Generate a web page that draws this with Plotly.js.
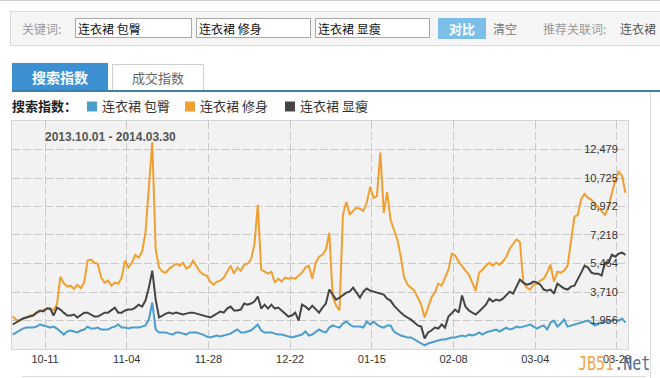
<!DOCTYPE html>
<html>
<head>
<meta charset="utf-8">
<script src="https://cdn.plot.ly/plotly-3.0.1.min.js"></script>
<style>
  html, body { margin:0; padding:0; background:#fff; }
  body { width:660px; height:378px; overflow:hidden; position:relative;
         font-family:"Noto Sans CJK SC","Liberation Sans",sans-serif; }
  #chart { position:absolute; left:0; top:0; width:660px; height:378px; z-index:1; }
  .ui { position:absolute; z-index:0; white-space:nowrap; }
  .top { z-index:5; }
  .lbl { font-size:12px; line-height:20px; }
  .inp { background:#fff; border:1px solid #a8a8a8; height:20px; top:18px;
         font-size:12px; line-height:20px; color:#111; padding-left:2px; box-sizing:border-box; }
</style>
</head>
<body>
<!-- page chrome -->
<div class="ui" style="left:0;top:0;width:660px;height:1px;background:#cfcfcf;"></div>
<div class="ui" style="left:10px;top:11px;width:660px;height:35px;background:#f5f5f5;border:1px solid #dadada;box-sizing:border-box;"></div>
<div class="ui lbl" style="left:22px;top:19px;color:#9a9a9a;">关键词:</div>
<div class="ui inp" style="left:75px;width:117px;">连衣裙 包臀</div>
<div class="ui inp" style="left:196px;width:115px;">连衣裙 修身</div>
<div class="ui inp" style="left:315px;width:115px;">连衣裙 显瘦</div>
<div class="ui" style="left:438px;top:18px;width:48px;height:21px;background:#7bbfe9;color:#fff;font-size:13px;font-weight:bold;line-height:21px;text-align:center;">对比</div>
<div class="ui lbl" style="left:493px;top:19px;color:#777;">清空</div>
<div class="ui lbl" style="left:543px;top:19px;color:#9a9a9a;">推荐关联词:</div>
<div class="ui lbl" style="left:620px;top:19px;color:#555;">连衣裙</div>

<div class="ui" style="left:12px;top:63px;width:96px;height:28px;background:#3d91d3;color:#fff;font-size:14px;font-weight:bold;line-height:28px;text-align:center;">搜索指数</div>
<div class="ui" style="left:112px;top:64px;width:92px;height:27px;background:#fff;border:1px solid #cfcfcf;border-bottom:none;box-sizing:border-box;color:#666;font-size:13px;line-height:26px;text-align:center;">成交指数</div>
<div class="ui" style="left:12px;top:90px;width:648px;height:2px;background:#3f80aa;"></div>
<div class="ui" style="left:650px;top:92px;width:1px;height:286px;background:#dcdcdc;"></div>
<div class="ui" style="left:22px;top:376px;width:624px;height:1px;background:#dcdcdc;"></div>

<div class="ui top" style="left:578px;top:352px;font-family:'DejaVu Sans Mono',monospace;font-size:19px;line-height:22px;transform:scaleX(0.79);transform-origin:left center;">
  <span style="color:#f2a44a;">JB51</span><span style="color:#4d6f99;">.Net</span>
</div>

<div id="chart"></div>

<script>
// ---------------- data ----------------
const startDay = '2013-10-01';
const seriesNames = ['连衣裙 包臀', '连衣裙 修身', '连衣裙 显瘦'];
const seriesColors = ['#4b9dcc', '#f0a030', '#444444'];

// 连衣裙 包臀 (daily search index, 2013-10-01 .. 2014-03-30)
const baotun = [
  1090,1220,1340,1460,1520,1520,1520,1580,1710,1650,
  1580,1520,1580,1460,1280,1090,1280,1340,1280,1220,
  1340,1400,1580,1460,1460,1520,1400,1400,1400,1520,
  1580,1710,1520,1520,1460,1520,1520,1520,1580,1650,
  2010,3060,1400,1220,1220,1220,1150,1090,1220,1220,
  1150,1090,1220,1220,1220,1150,1090,970,910,970,
  1030,970,1030,1090,1150,1280,1400,1220,1220,1280,
  1340,1520,1710,1340,1220,1220,1220,1150,1090,1090,
  1030,970,910,970,1030,1090,1280,1030,1090,1220,
  1400,1280,1220,1520,1650,1580,1520,1770,1890,1710,
  1580,1580,1580,1520,1890,1710,1890,1710,1580,1520,
  1650,1650,1280,1150,1030,970,910,910,790,660,
  540,420,540,600,660,720,790,790,850,910,
  910,970,1030,970,1090,1030,1090,1220,1090,1220,
  1280,1340,1400,1280,1400,1520,1400,1460,1580,1520,
  1580,1650,1710,1580,1460,1580,1650,1400,1830,1950,
  1580,1770,2010,1580,1650,1710,1770,1830,1890,1950,
  1770,1650,1770,1830,1890,1890,1950,2010,1950,2080,
  1830
];

// 连衣裙 修身
const xiushen = [
  2216,2000,1950,2050,2150,2250,2300,2400,2550,2600,
  2700,2650,2600,2950,4650,4250,4050,4100,3900,4150,
  3950,4300,5640,5700,5510,5450,4590,4290,4410,4100,
  4290,4220,4590,5640,5210,5510,6000,5820,6190,7350,
  9870,12940,6310,5210,4960,4900,5150,5330,5450,5330,
  5510,5150,5270,5640,5330,4960,4780,4720,4350,4160,
  4350,4410,4590,4960,5330,4840,5210,5020,5390,5450,
  5700,6620,9070,5080,4960,4840,4960,4290,4530,4350,
  4590,4530,4590,4530,4720,4900,5210,5330,4530,5510,
  5880,6000,6310,7360,3430,2870,2570,8460,9260,8460,
  8710,8890,8830,8710,9200,10180,9500,9630,12290,8580,
  9870,8150,7540,6930,5880,4590,4160,3980,3790,3360,
  2930,2140,2810,3360,3670,4220,4100,4590,5080,6070,
  5940,5580,5270,5020,4780,4290,3790,4900,5080,5330,
  5510,5330,5510,5390,5580,5880,6370,6680,6930,6800,
  4290,3980,3860,4160,4220,4410,4530,4900,5390,4350,
  4960,4900,5020,5330,6930,8340,8460,9440,9750,9500,
  9380,9140,8890,8710,8460,8950,9810,10610,11100,10860,
  9810
];

// 连衣裙 显瘦
const xianshou = [
  1710,1830,1950,2080,2140,2200,2260,2440,2570,2510,
  2690,2690,2260,2750,2630,2440,2260,2260,2320,2140,
  2320,2440,2440,2320,2200,2200,2320,2440,2440,2570,
  2750,2440,2440,2570,2630,2630,2750,2930,2810,3180,
  3980,5020,3240,2140,2260,2380,2440,2380,2440,2380,
  2320,2380,2440,2440,2380,2320,2260,2200,2140,2260,
  2380,2510,2440,2690,2810,2570,2570,2630,3000,2930,
  3000,3120,3430,2690,2930,2690,2930,2690,2750,2570,
  2380,2200,2260,2440,1950,2930,2810,2630,2870,2630,
  2440,2750,3000,3860,3550,3240,3360,3490,3670,3730,
  3980,3670,3360,3730,3920,3790,3730,3670,3610,3550,
  3300,3180,2870,2630,2440,2260,2140,2010,1830,1650,
  1580,850,1220,1340,1520,1460,1710,1520,2200,2440,
  2630,2440,3490,2810,2570,2440,2320,2510,2690,2930,
  3300,3120,3240,3180,3300,3490,3730,3610,4040,4470,
  4290,4160,4220,4350,4290,4160,3860,3790,3860,3610,
  4220,4040,3920,3860,4040,4100,4470,4900,5330,5210,
  4900,4840,4840,4720,5510,5510,6000,5880,6070,6130,
  6000
];

const xTickVals = ['2013-10-11','2013-11-04','2013-11-28','2013-12-22','2014-01-15','2014-02-08','2014-03-04','2014-03-28'];
const xTickText = ['10-11','11-04','11-28','12-22','01-15','02-08','03-04','03-28'];
const yTickVals = [1956, 3710, 5464, 7218, 8972, 10725, 12479];
const yRange = [202, 14233];
const xRange = ['2013-10-01 07:00', '2014-03-31 06:00'];
const dateRangeLabel = '2013.10.01 - 2014.03.30';
const legendTitle = '搜索指数：';

// ---------------- build ----------------
function dayList(start, n) {
  const t0 = new Date(start + 'T12:00:00Z').getTime();
  const out = [];
  for (let i = 0; i < n; i++) {
    const d = new Date(t0 + i * 86400000);
    out.push(d.toISOString().slice(0, 10) + ' 12:00');
  }
  return out;
}
const days = dayList(startDay, baotun.length);
const seriesValues = [baotun, xiushen, xianshou];

// right-aligned y labels: pad with figure spaces (digit-width) to equal length
const yTickText = yTickVals.map(v => {
  const s = v.toLocaleString('en-US');
  return '\u2007'.repeat(Math.max(0, 6 - s.length)) + s;
});

const traces = seriesValues.map((vals, i) => ({
  type: 'scatter', mode: 'lines', name: seriesNames[i],
  x: days, y: vals,
  line: { color: seriesColors[i], width: 2 },
  hoverinfo: 'skip'
}));

// plot area in page pixels
const M = { l: 12, r: 32, t: 121, b: 29 };
const W = 660, H = 378;
const pw = W - M.l - M.r, ph = H - M.t - M.b;
const px = x => (x - M.l) / pw;
const py = y => (H - M.b - y) / ph;

const annotations = [
  { xref: 'paper', yref: 'paper', x: px(43), y: py(137), xanchor: 'left', yanchor: 'middle',
    text: dateRangeLabel, showarrow: false,
    font: { family: 'Liberation Sans, Arial, sans-serif', size: 12, color: '#555', weight: 'bold' } },
  { xref: 'paper', yref: 'paper', x: px(10), y: py(106), xanchor: 'left', yanchor: 'middle',
    text: '<b>' + legendTitle + '</b>', showarrow: false,
    font: { family: 'Noto Sans CJK SC, sans-serif', size: 13, color: '#222' } }
];
const shapes = [];
const legendX = [87, 185, 285];
seriesNames.forEach((nm, i) => {
  shapes.push({ type: 'rect', xref: 'paper', yref: 'paper',
    x0: px(legendX[i]), x1: px(legendX[i] + 10), y0: py(111.5), y1: py(101.5),
    fillcolor: seriesColors[i], line: { width: 0 } });
  annotations.push({ xref: 'paper', yref: 'paper', x: px(legendX[i] + 13), y: py(106),
    xanchor: 'left', yanchor: 'middle', text: nm, showarrow: false,
    font: { family: 'Noto Sans CJK SC, sans-serif', size: 13, color: '#333' } });
});

const axisFont = { family: 'Liberation Sans, Arial, sans-serif', size: 11, color: '#333' };
const layout = {
  width: W, height: H,
  margin: { l: M.l, r: M.r, t: M.t, b: M.b, pad: 0 },
  paper_bgcolor: 'rgba(0,0,0,0)',
  plot_bgcolor: '#f2f2f2',
  showlegend: false,
  hovermode: false,
  xaxis: {
    type: 'date', range: xRange, tickmode: 'array', tickvals: xTickVals, ticktext: xTickText,
    showgrid: true, gridcolor: '#c9c9c9', griddash: '8px,3px', gridwidth: 1,
    showline: true, linecolor: '#d4d4d4', mirror: true, zeroline: false,
    ticks: '', tickfont: axisFont, fixedrange: true
  },
  yaxis: {
    range: yRange, tickmode: 'array', tickvals: yTickVals, ticktext: yTickText,
    side: 'right', ticklabelstandoff: -47,
    showgrid: true, gridcolor: '#c9c9c9', griddash: '8px,3px', gridwidth: 1,
    showline: true, linecolor: '#d4d4d4', mirror: true, zeroline: false,
    ticks: '', tickfont: axisFont, fixedrange: true
  },
  annotations: annotations,
  shapes: shapes
};

Plotly.newPlot('chart', traces, layout, { staticPlot: true, displayModeBar: false });
</script>
</body>
</html>
